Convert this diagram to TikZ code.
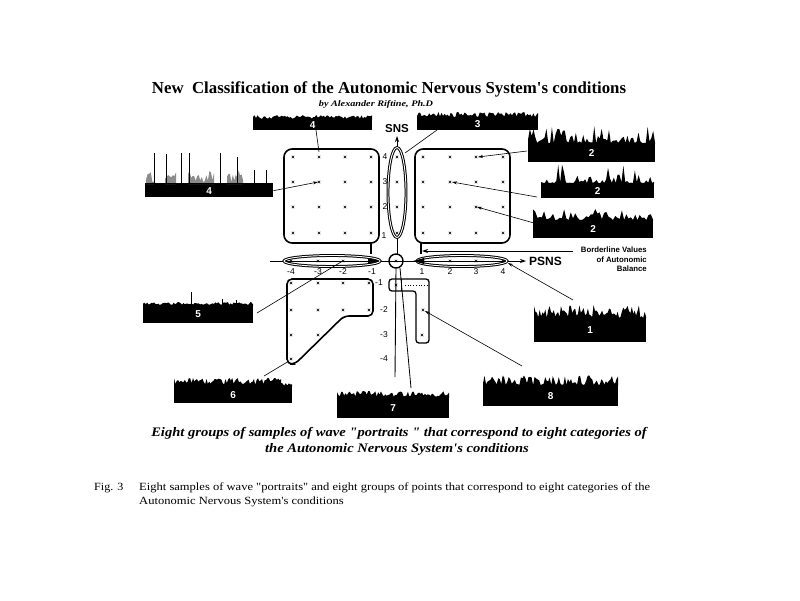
\documentclass[tikz,border=0pt]{standalone}
\usepackage{fontspec}
\setmainfont{Liberation Serif}[Ligatures=TeXOff]
\setsansfont{Liberation Sans}[Ligatures=TeXOff]
\usetikzlibrary{arrows.meta}
\newcommand{\wavetop}[6]{%
  \fill (#1,#3+0.5) -- plot[domain=#1:#2, samples=#6, variable=\t] (\t,{#3-#4*rnd^#5}) -- (#2,#3+0.5) -- cycle;}
\newcommand{\gpt}[2]{%
  \draw[line width=0.5pt] (#1-1.3,#2-1.3) -- (#1+1.3,#2+1.3) (#1-1.3,#2+1.3) -- (#1+1.3,#2-1.3);}
\newcommand{\spk}[3]{\draw[line width=0.7pt] (#1,#2) -- (#1,#3);}
\tikzset{
  wavebox/.style={fill=black, inner sep=0pt, text=white, anchor=north west,
    font=\sffamily\bfseries\fontsize{10}{10}\selectfont},
  grp/.style={line width=1.6pt, rounded corners=8pt},
  ell/.style={double=white, double distance=0.9pt, line width=1pt},
  conn/.style={line width=0.6pt},
  arr/.style={conn, -{Stealth[length=5pt,width=3pt]}},
  axlab/.style={font=\sffamily\fontsize{8.5}{8.5}\selectfont, inner sep=0pt},
  captxt/.style={font=\fontsize{13}{13}\selectfont\bfseries\itshape, inner sep=0pt},
  figtxt/.style={font=\fontsize{11}{11}\selectfont, inner sep=0pt, anchor=west},
}
\begin{document}
\begin{tikzpicture}[x=1pt,y=-1pt]
\useasboundingbox (0,0) rectangle (800,600);
\fill[white] (0,0) rectangle (800,600);
\pgfmathsetseed{1234}

% ---------- titles ----------
\node[font=\fontsize{16.8}{16.8}\selectfont\bfseries] (title) at (389,89)
  {New\ \ Classification of the Autonomic Nervous System's conditions};
\node[font=\fontsize{8.5}{8.5}\selectfont\bfseries\itshape] (sub) at (376,104)
  {\scalebox{1.2}[1]{by Alexander Riftine, Ph.D}};

% ---------- wave portraits ----------
% 4 (top)
\node[wavebox, minimum width=119pt, minimum height=11pt] (w4a) at (253,119) {4};
\wavetop{253}{372}{119}{4}{1}{80}
% 4 (left) with spikes
\node[wavebox, minimum width=128pt, minimum height=13pt] (w4b) at (145,184) {4};
\fill[black!45] (146,184) -- plot[domain=146:154, samples=6, variable=\t] (\t,{183-13*rnd}) -- (154,184) -- cycle;
\fill[black!45] (165,184) -- plot[domain=165:176, samples=8, variable=\t] (\t,{183-13*rnd}) -- (176,184) -- cycle;
\fill[black!45] (188,184) -- plot[domain=188:214, samples=18, variable=\t] (\t,{183-13*rnd}) -- (214,184) -- cycle;
\fill[black!45] (227,184) -- plot[domain=227:243, samples=12, variable=\t] (\t,{183-13*rnd}) -- (243,184) -- cycle;
\draw[line width=0.6pt] (145,183.5) -- (273,183.5);
\spk{154}{184}{153}\spk{166}{184}{154}\spk{181}{184}{153}\spk{189}{184}{153}
\spk{220}{184}{153}\spk{237}{184}{157}\spk{254}{184}{170}\spk{266}{184}{170}
% 3 (top)
\node[wavebox, minimum width=121pt, minimum height=13pt] (w3) at (417,117) {3};
\wavetop{417}{538}{117}{5}{1}{80}
% 2 (a)
\node[wavebox, minimum width=127pt, minimum height=19pt] (w2a) at (528,143) {2};
\wavetop{528}{655}{143}{17}{3}{70}
% 2 (b)
\node[wavebox, minimum width=113pt, minimum height=15pt] (w2b) at (541,183) {2};
\wavetop{541}{654}{183}{19}{4}{60}
% 2 (c)
\node[wavebox, minimum width=120pt, minimum height=18pt] (w2c) at (533,220) {2};
\wavetop{533}{653}{220}{13}{2}{55}
% 5
\node[wavebox, minimum width=110pt, minimum height=18pt] (w5) at (143,305) {5};
\wavetop{143}{253}{305}{3}{1}{80}
\spk{191}{305}{292}\spk{222}{305}{299}\spk{236}{305}{300}
% 6
\node[wavebox, minimum width=118pt, minimum height=17pt] (w6) at (174,386) {6};
\wavetop{174}{281}{386}{8}{0.6}{80}
\wavetop{281}{292}{386}{3}{1}{8}
% 7
\node[wavebox, minimum width=112pt, minimum height=21pt] (w7) at (337,397) {7};
\wavetop{337}{449}{397}{6}{0.8}{80}
% 1
\node[wavebox, minimum width=112pt, minimum height=24pt] (w1) at (534,318) {1};
\wavetop{534}{646}{318}{13}{1}{80}
% 8
\node[wavebox, minimum width=135pt, minimum height=21pt] (w8) at (483,385) {8};
\wavetop{483}{618}{385}{10}{1.5}{90}

% ---------- axes ----------
\draw[line width=0.9pt] (270,261) -- (507,261);
\draw[line width=0.9pt,-{Stealth[length=6pt,width=4pt]}] (507,261) -- (526,261);
\node[font=\sffamily\bfseries\fontsize{12}{12}\selectfont, anchor=west, inner sep=0pt] (psns) at (529,261) {PSNS};
\draw[line width=0.9pt,-{Stealth[length=6pt,width=4pt]}] (397,148) -- (397,136);
\node[font=\sffamily\bfseries\fontsize{11.5}{11.5}\selectfont, inner sep=0pt] (sns) at (397,129) {SNS};
\draw[line width=0.9pt] (397,237) -- (397,254);

% groups
\draw[grp] (284,149) rectangle (379,243);
\draw[grp] (415,149) rectangle (510,243);
\draw[ell] (332,261) ellipse [x radius=48, y radius=5.5];
\draw[ell] (462,261) ellipse [x radius=45, y radius=5.5];
\draw[ell] (397,192.5) ellipse [x radius=9, y radius=45];
\node[draw, circle, line width=1.4pt, minimum size=14pt, inner sep=0pt] (ctr) at (396,261) {};
\draw[line width=1.6pt, rounded corners=5pt] (287,279) -- (373,279) -- (373,316) -- (344,316) -- (295,364) -- (287,364) -- cycle;
\draw[line width=1.3pt, rounded corners=3pt] (389,279) -- (429,279) -- (429,343) -- (416,343) -- (416,291) -- (389,291) -- cycle;
\draw[line width=0.8pt] (401,279) -- (401,291);
\draw[line width=0.7pt, dotted] (405,285) -- (427,285);

% borderline marks
\fill (368,258) -- (380,261) -- (368,264) -- cycle;
\fill (424,258) -- (413,261) -- (424,264) -- cycle;
\draw[line width=1.5pt] (371,243) -- (371,254);
\draw[line width=1.5pt] (421,243) -- (421,254);
\node[font=\sffamily\bfseries\fontsize{7.8}{9.5}\selectfont, align=right, anchor=north east, inner sep=0pt] (bord) at (647,247)
  {Borderline Values\\of Autonomic\\Balance};
\draw[line width=1pt,-{Stealth[length=6pt,width=4pt]}] (573,251) -- (422,251);

% grid points
\foreach \x in {293,319,345,371} {\foreach \y in {157,182,207,233} {\gpt{\x}{\y}}}
\foreach \x in {423,450,476,503} {\foreach \y in {157,182,207,233} {\gpt{\x}{\y}}}
\foreach \y in {157,182,207,233} {\gpt{397}{\y}}
\foreach \x in {291,318,343,423,450,476,503} {\gpt{\x}{261}}
\gpt{396}{261}
\foreach \x in {291,318,343,369} {\gpt{\x}{283}\gpt{\x}{310}}
\gpt{291}{335}\gpt{318}{335}\gpt{291}{359}
\gpt{396}{285}\gpt{423}{310}\gpt{422}{335}

% axis labels
\node[axlab] at (385,157) {4};
\node[axlab] at (385,182) {3};
\node[axlab] at (385,207) {2};
\node[axlab] at (384,236) {1};
\node[axlab] at (379,283) {-1};
\node[axlab] at (384,310) {-2};
\node[axlab] at (384,335) {-3};
\node[axlab] at (384,359) {-4};
\node[axlab] at (291,272) {-4};
\node[axlab] at (318,272) {-3};
\node[axlab] at (343,272) {-2};
\node[axlab] at (372,272) {-1};
\node[axlab] at (422,272) {1};
\node[axlab] at (450,272) {2};
\node[axlab] at (476,272) {3};
\node[axlab] at (503,272) {4};

% ---------- connectors ----------
\coordinate (pA) at (319,152);
\coordinate (pB) at (318,182);
\coordinate (pC) at (405,153);
\coordinate (pD) at (478,157);
\coordinate (pE) at (452,182);
\coordinate (pF) at (477,207);
\coordinate (pG) at (341,262);
\coordinate (pH) at (289,361);
\coordinate (pI) at (395,377);
\coordinate (pJ) at (411,388);
\coordinate (pK) at (508,263);
\coordinate (pL) at (425,311);
\draw[conn] (316,130) -- (pA);
\draw[arr] (w4b.east) -- (pB);
\draw[conn] (437,130) -- (pC);
\draw[arr] (527,151) -- (pD);
\draw[arr] (537,197) -- (pE);
\draw[arr] (534,223) -- (pF);
\draw[conn] (257,313) -- (pG);
\draw[conn] (264,376) -- (pH);
\draw[conn,line width=0.9pt] (ctr.south) -- (pI);
\draw[conn,line width=0.8pt] (400,268) -- (pJ);
\draw[arr] (573,300) -- (pK);
\draw[arr] (522,366) -- (pL);

% ---------- captions ----------
\node[captxt] (cap1) at (399,433)
  {\scalebox{1.12}[1]{Eight groups of samples of wave "portraits " that correspond to eight categories of}};
\node[captxt] (cap2) at (397,449)
  {\scalebox{1.12}[1]{the Autonomic Nervous System's conditions}};
\node[figtxt] (figno) at (94,488) {\scalebox{1.1}[1]{Fig. 3}};
\node[figtxt] (fig1) at (139,488)
  {\scalebox{1.14}[1]{Eight samples of wave "portraits" and eight groups of points that correspond to eight categories of the}};
\node[figtxt] (fig2) at (139,502)
  {\scalebox{1.14}[1]{Autonomic Nervous System's conditions}};
\end{tikzpicture}
\end{document}
